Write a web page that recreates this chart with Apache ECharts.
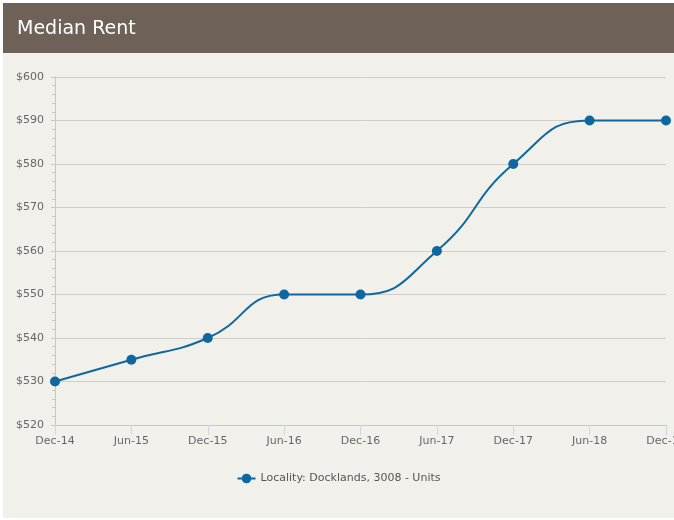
<!DOCTYPE html>
<html>
<head>
<meta charset="utf-8">
<script src="https://cdn.jsdelivr.net/npm/echarts@6/dist/echarts.min.js"></script>
<style>
  html, body { margin: 0; padding: 0; background: #ffffff; }
  #chart { position: absolute; left: 3px; top: 3px; width: 671px; height: 515px; background: #f1f0eb; }
</style>
</head>
<body>
<div id="chart"></div>
<script>
// 数据
var categories = ['Dec-14', 'Jun-15', 'Dec-15', 'Jun-16', 'Dec-16', 'Jun-17', 'Dec-17', 'Jun-18', 'Dec-18'];
var rentValues = [530, 535, 540, 550, 550, 560, 580, 590, 590];
var seriesName = 'Locality: Docklands, 3008 - Units';
var chartTitle = 'Median Rent';

var fontFamily = 'DejaVu Sans';
var lineColor = '#0f679f';

var myChart = echarts.init(document.getElementById('chart'));
var option = {
  backgroundColor: '#f1f0eb',
  animation: false,
  graphic: [
    {
      type: 'rect',
      left: 0,
      top: 0,
      shape: { width: 671, height: 50 },
      style: { fill: '#6e6258' }
    }
  ],
  title: {
    text: chartTitle,
    left: 9,
    top: 12,
    textStyle: { color: '#ffffff', fontSize: 19, fontWeight: 'normal', fontFamily: fontFamily }
  },
  grid: { left: 52, right: 8, top: 74, bottom: 93, outerBoundsMode: 'none', containLabel: false },
  legend: {
    bottom: 29,
    left: 'center',
    itemWidth: 18,
    itemHeight: 12,
    itemGap: 6,
    textStyle: { color: '#555555', fontSize: 11, fontFamily: fontFamily },
    data: [seriesName]
  },
  xAxis: {
    type: 'category',
    data: categories,
    boundaryGap: false,
    axisLine: { show: true, lineStyle: { color: '#c8c7c2', width: 1 } },
    axisTick: { show: true, alignWithLabel: true, length: 10, lineStyle: { color: '#ccd6eb' } },
    axisLabel: { color: '#666666', fontSize: 11, fontFamily: fontFamily, margin: 11, interval: 0 }
  },
  yAxis: {
    type: 'value',
    min: 520,
    max: 600,
    interval: 10,
    axisLine: { show: true, lineStyle: { color: '#c8c7c2' } },
    axisTick: { show: true, length: 4, lineStyle: { color: '#c8c7c2' } },
    minorTick: { show: true, splitNumber: 5, length: 3, lineStyle: { color: '#c8c7c2' } },
    axisLabel: {
      color: '#666666', fontSize: 11, fontFamily: fontFamily, margin: 11,
      formatter: function (v) { return '$' + v; }
    },
    splitLine: { show: true, lineStyle: { color: '#cfcec9', width: 1 } }
  },
  series: [
    {
      name: seriesName,
      type: 'line',
      data: rentValues,
      smooth: 0.5,
      symbol: 'circle',
      symbolSize: 10,
      itemStyle: { color: lineColor },
      lineStyle: { color: lineColor, width: 2 }
    }
  ]
};
myChart.setOption(option);
</script>
</body>
</html>
